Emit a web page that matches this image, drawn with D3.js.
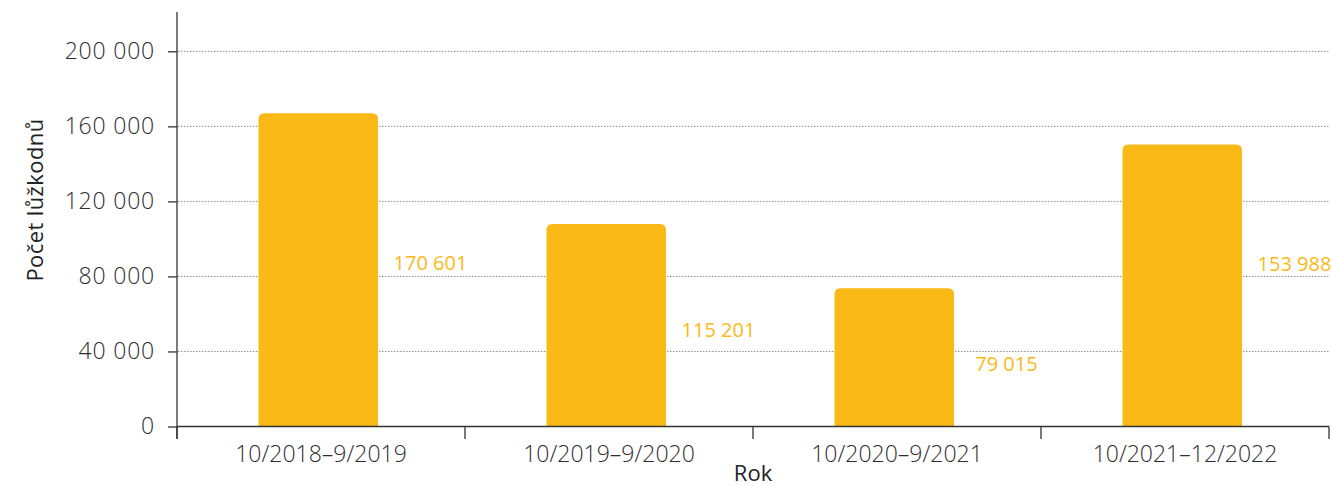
<!DOCTYPE html>
<html><head><meta charset="utf-8">
<script src="https://cdn.jsdelivr.net/npm/d3@7"></script>
<style>
html,body{margin:0;padding:0;background:#fff;}
svg text{font-family:"Open Sans","Lato",sans-serif;}
</style></head><body>
<svg id="c" width="1332" height="486"></svg>
<script>
const categories = ["10/2018–9/2019","10/2019–9/2020","10/2020–9/2021","10/2021–12/2022"];
const barValues = [167000, 108000, 73700, 150300];
const labelTexts = ["170 601","115 201","79 015","153 988"];
const labelAnchors = [87200, 51500, 33300, 86400];
const yTicks = [0, 40000, 80000, 120000, 160000, 200000];

(function(){
const svg = d3.select("#c");
const pLeft = 177, pRight = 1329, pBottom = 426.5, pTop = 51.3;
const x = d3.scaleBand().domain(categories).range([pLeft, pRight]).padding(0);
const y = d3.scaleLinear().domain([0, 200000]).range([pBottom, pTop]);
const fmt = v => d3.format(",")(v).replace(/,/g, " ");
const step = x.bandwidth();
const barW = step * 0.415;
const barOff = step * 0.283;
const color = "#FBB918";
const textColor = "#2e2e2e";

// gridlines
svg.append("g").selectAll("line").data(yTicks.filter(d => d > 0)).join("line")
  .attr("x1", pLeft + 1).attr("x2", pRight).attr("y1", d => y(d)).attr("y2", d => y(d))
  .attr("stroke", "#8a8a8a").attr("stroke-width", 1).attr("stroke-dasharray", "1.5,1.5");

// bars with rounded top corners
const r = 6;
svg.append("g").selectAll("path").data(categories).join("path")
  .attr("fill", color)
  .attr("d", (c, i) => {
    const x0 = x(c) + barOff, x1 = x0 + barW, y0 = y(barValues[i]), yb = y(0);
    return `M${x0},${yb}V${y0 + r}Q${x0},${y0} ${x0 + r},${y0}H${x1 - r}Q${x1},${y0} ${x1},${y0 + r}V${yb}Z`;
  });

// data labels
svg.append("g").selectAll("text").data(categories).join("text")
  .attr("x", (c) => x(c) + step * 0.88)
  .attr("y", (c, i) => y(labelAnchors[i]))
  .attr("dy", "0.35em")
  .attr("text-anchor", "middle")
  .attr("fill", color)
  .attr("font-size", 20)
  .attr("font-weight", 500)
  .text((c, i) => labelTexts[i]);

// y axis
const yAxis = d3.axisLeft(y).tickValues(yTicks).tickFormat(fmt).tickSize(9).tickPadding(13);
const gy = svg.append("g").attr("transform", `translate(${pLeft},0)`).call(yAxis);
gy.select(".domain").remove();
gy.selectAll(".tick line").attr("stroke", "#333").attr("stroke-width", 1.3);
gy.selectAll(".tick text").attr("fill", textColor).attr("font-size", 23).attr("font-weight", 300)
  .attr("letter-spacing", "0.8px")
  .attr("font-family", "'Open Sans', sans-serif");
svg.append("line").attr("x1", pLeft).attr("x2", pLeft).attr("y1", 12).attr("y2", 439)
  .attr("stroke", "#333").attr("stroke-width", 1.3);

// x axis
const xTickScale = d3.scaleLinear().domain([0, categories.length]).range([pLeft, pRight]);
svg.append("line").attr("x1", pLeft).attr("x2", pRight).attr("y1", pBottom).attr("y2", pBottom)
  .attr("stroke", "#333").attr("stroke-width", 1.3);
svg.append("g").selectAll("line").data(d3.range(categories.length + 1)).join("line")
  .attr("x1", d => xTickScale(d)).attr("x2", d => xTickScale(d))
  .attr("y1", pBottom).attr("y2", 439).attr("stroke", "#333").attr("stroke-width", 1.3);
svg.append("g").selectAll("text").data(categories).join("text")
  .attr("x", c => x(c) + step / 2).attr("y", 462)
  .attr("text-anchor", "middle").attr("fill", textColor)
  .attr("font-size", 23).attr("font-weight", 300)
  .text(c => c);

// axis titles
svg.append("text").attr("x", (pLeft + pRight) / 2).attr("y", 481)
  .attr("text-anchor", "middle").attr("fill", "#222").attr("font-size", 22).text("Rok");
svg.append("text").attr("transform", "translate(43,200) rotate(-90)")
  .attr("text-anchor", "middle").attr("fill", "#222").attr("font-size", 22)
  .attr("letter-spacing", "0.4px").text("Počet lůžkodnů");
})();
</script>
</body></html>
